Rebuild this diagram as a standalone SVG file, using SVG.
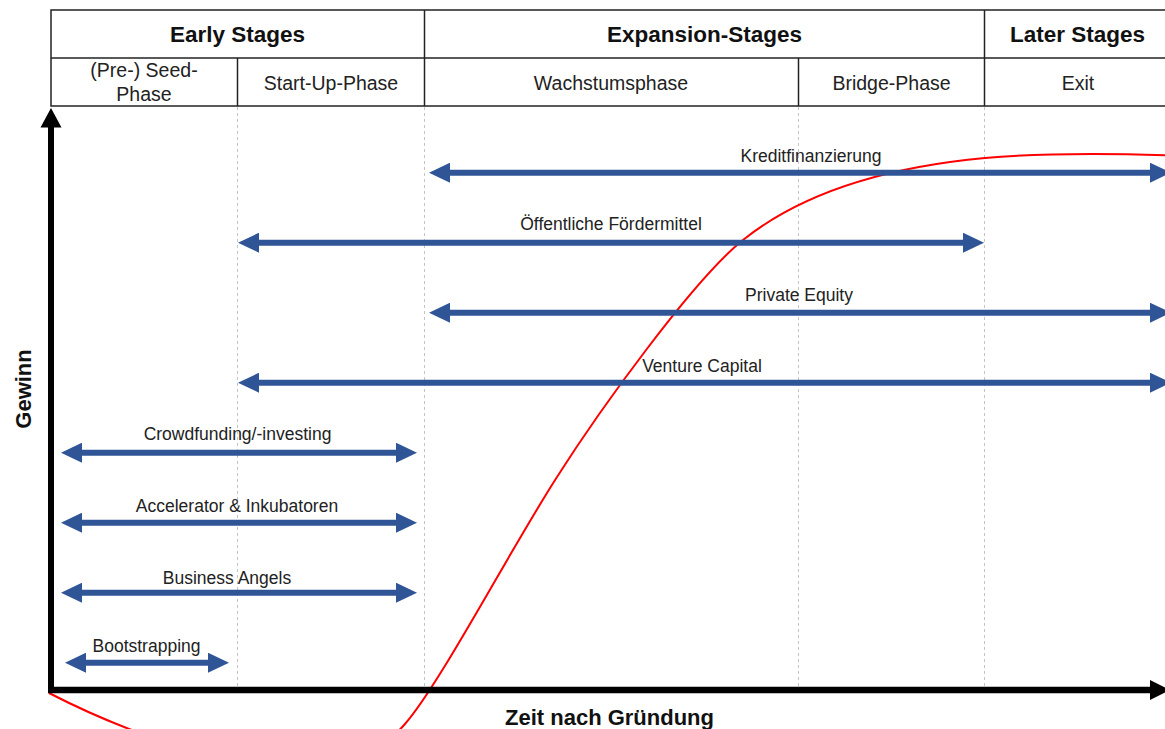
<svg xmlns="http://www.w3.org/2000/svg" width="1165" height="729" viewBox="0 0 1165 729">
<style>
.hdr{font-family:"Liberation Sans",Arial,sans-serif;font-size:22.5px;font-weight:bold;fill:#111;text-anchor:middle}
.sub{font-family:"Liberation Sans",Arial,sans-serif;font-size:19.5px;fill:#222;text-anchor:middle}
.lbl{font-family:"Liberation Sans",Arial,sans-serif;font-size:17.5px;fill:#222;text-anchor:middle}
.ax{font-family:"Liberation Sans",Arial,sans-serif;font-size:22px;font-weight:bold;fill:#111;text-anchor:middle}
.grid{stroke:#c4c4c4;stroke-width:1;stroke-dasharray:3,3;fill:none}
.tbl{stroke:#222;stroke-width:1.5;fill:none}
.fa{stroke:#2F5597;stroke-width:6;fill:none;marker-start:url(#ah);marker-end:url(#ah)}
</style>
<defs>
<marker id="ah" markerUnits="userSpaceOnUse" markerWidth="21" markerHeight="20" viewBox="0 0 21 20" refX="2" refY="10" orient="auto-start-reverse">
<path d="M0,0 L21,10 L0,20 z" fill="#2F5597"/>
</marker>
</defs>
<rect width="1165" height="729" fill="#fff"/>

<g id="grid">
<line class="grid" x1="237.5" y1="107" x2="237.5" y2="687"/>
<line class="grid" x1="424.5" y1="107" x2="424.5" y2="687"/>
<line class="grid" x1="798.5" y1="107" x2="798.5" y2="687"/>
<line class="grid" x1="984.5" y1="107" x2="984.5" y2="687"/>
</g>

<g id="header">
<rect class="tbl" x="51" y="10" width="1120" height="96"/>
<line class="tbl" x1="51" y1="58" x2="1171" y2="58"/>
<line class="tbl" x1="424.5" y1="10" x2="424.5" y2="106"/>
<line class="tbl" x1="984.5" y1="10" x2="984.5" y2="106"/>
<line class="tbl" x1="237.5" y1="58" x2="237.5" y2="106"/>
<line class="tbl" x1="798.5" y1="58" x2="798.5" y2="106"/>
<g id="early-stages"><text class="hdr" x="237.5" y="42">Early Stages</text></g>
<g id="expansion-stages"><text class="hdr" x="704.5" y="42">Expansion-Stages</text></g>
<g id="later-stages"><text class="hdr" x="1077.5" y="42">Later Stages</text></g>
<g id="seed-phase"><text class="sub" x="144" y="77">(Pre-) Seed-</text><text class="sub" x="144" y="100.5">Phase</text></g>
<g id="startup-phase"><text class="sub" x="331" y="89.5">Start-Up-Phase</text></g>
<g id="wachstumsphase"><text class="sub" x="611" y="89.5">Wachstumsphase</text></g>
<g id="bridge-phase"><text class="sub" x="891.5" y="89.5">Bridge-Phase</text></g>
<g id="exit"><text class="sub" x="1078" y="89.5">Exit</text></g>
</g>

<g id="curve">
<path d="M49,693 C150,745 330,810 405,724 C440,684 510,550 557,477 C599,411 693,280 743,240 C818,180 920,164 985,158 C1035,153.5 1100,153 1175,155.5" fill="none" stroke="#ff0000" stroke-width="2"/>
</g>

<g id="connectors">
<g id="kreditfinanzierung"><line class="fa" x1="448" y1="172.7" x2="1152" y2="172.7"/><text class="lbl" x="811" y="161.5">Kreditfinanzierung</text></g>
<g id="foerdermittel"><line class="fa" x1="257" y1="242.7" x2="965" y2="242.7"/><text class="lbl" x="611" y="230">Öffentliche Fördermittel</text></g>
<g id="private-equity"><line class="fa" x1="448" y1="312.7" x2="1152" y2="312.7"/><text class="lbl" x="799" y="300.5">Private Equity</text></g>
<g id="venture-capital"><line class="fa" x1="257" y1="382.7" x2="1152" y2="382.7"/><text class="lbl" x="702" y="371.5">Venture Capital</text></g>
<g id="crowdfunding"><line class="fa" x1="80" y1="452.7" x2="398" y2="452.7"/><text class="lbl" x="237.5" y="440">Crowdfunding/-investing</text></g>
<g id="accelerator"><line class="fa" x1="80" y1="522.7" x2="398" y2="522.7"/><text class="lbl" x="237" y="512">Accelerator &amp; Inkubatoren</text></g>
<g id="business-angels"><line class="fa" x1="80" y1="592.7" x2="398" y2="592.7"/><text class="lbl" x="227" y="584">Business Angels</text></g>
<g id="bootstrapping"><line class="fa" x1="84" y1="662.7" x2="210" y2="662.7"/><text class="lbl" x="146.5" y="652">Bootstrapping</text></g>
</g>

<g id="axes">
<line x1="51" y1="693" x2="51" y2="125" stroke="#000" stroke-width="6"/>
<polygon points="40.5,127.5 51,108 61.5,127.5" fill="#000"/>
<line x1="48" y1="690" x2="1152" y2="690" stroke="#000" stroke-width="6.5"/>
<polygon points="1150,680 1170,690 1150,700" fill="#000"/>
<text class="ax" transform="translate(31,389) rotate(-90)">Gewinn</text>
<text class="ax" x="609.5" y="725">Zeit nach Gründung</text>
</g>
</svg>
